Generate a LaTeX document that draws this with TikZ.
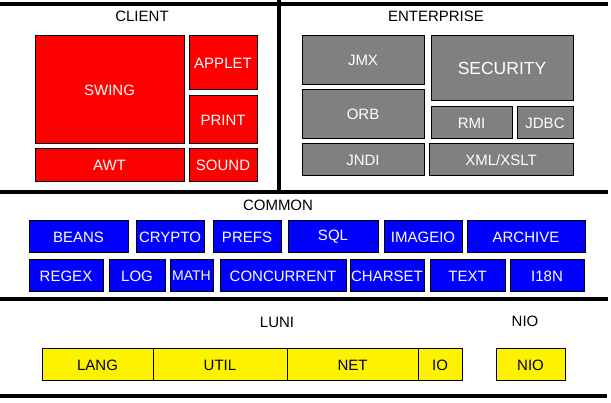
\documentclass[tikz,border=0pt]{standalone}
\usepackage{fontspec}
\setmainfont{Liberation Sans}
\tikzset{every picture/.style={line width=1pt}}
\tikzset{
  pkg/.style={draw=black, rectangle, inner sep=0pt, font=\fontsize{15}{17}\selectfont},
  clientpkg/.style={pkg, fill=red, text=white},
  entpkg/.style={pkg, fill=gray, text=white},
  commonpkg/.style={pkg, fill=blue, text=white, minimum height=32},
  lunipkg/.style={pkg, fill=yellow, text=black, minimum height=32},
  area/.style={font=\fontsize{15}{17}\selectfont},
  rule/.style={line width=4pt}
}

\begin{document}
\begin{tikzpicture}[x=1pt, y=-1pt]
        \useasboundingbox (0,0) rectangle (611,403);
        \draw[rule] (0,4) -- (608,4);
        \draw[rule] (279,0) -- (279,192);
        \draw[rule] (0,192) -- (608,192);
        \draw[rule] (0,299) -- (608,299);
        \draw[rule] (0,396) -- (607,396);

        \node[area] (client)     at (142,16)  {CLIENT};
        \node[area] (enterprise) at (436,16)  {ENTERPRISE};
        \node[area] (common)     at (278,205) {COMMON};
        \node[area] (luni)       at (277,322) {LUNI};
        \node[area] (niolabel)   at (525,321) {NIO};

        \node[clientpkg, minimum width=149, minimum height=108] (swing)  at (109.5,90)  {SWING};
        \node[clientpkg, minimum width=68, minimum height=54]   (applet) at (223,63)    {APPLET};
        \node[clientpkg, minimum width=68, minimum height=48]   (print)  at (223,120)   {PRINT};
        \node[clientpkg, minimum width=149, minimum height=33]  (awt)    at (109.5,165.5) {AWT};
        \node[clientpkg, minimum width=68, minimum height=33]   (sound)  at (223,165.5) {SOUND};

        \node[entpkg, minimum width=122, minimum height=49] (jmx)      at (363,60.5)  {JMX};
        \node[entpkg, minimum width=142, minimum height=65, font=\fontsize{17.5}{20}\selectfont] (security) at (502,68.5) {SECURITY};
        \node[entpkg, minimum width=122, minimum height=49] (orb)      at (363,114.5) {ORB};
        \node[entpkg, minimum width=81, minimum height=32]  (rmi)      at (471.5,123) {RMI};
        \node[entpkg, minimum width=56, minimum height=32]  (jdbc)     at (545,123)   {JDBC};
        \node[entpkg, minimum width=122, minimum height=32] (jndi)     at (363,160)   {JNDI};
        \node[entpkg, minimum width=144, minimum height=32] (xml)      at (501,160)   {XML/XSLT};

        \node[commonpkg, minimum width=99]  (beans)   at (78.5,237) {BEANS};
        \node[commonpkg, minimum width=68]  (crypto)  at (170,237)  {CRYPTO};
        \node[commonpkg, minimum width=68]  (prefs)   at (247,237)  {PREFS};
        \node[commonpkg, minimum width=90]  (sql)     at (333,237)  {SQL};
        \node[commonpkg, minimum width=78]  (imageio) at (423,237)  {IMAGEIO};
        \node[commonpkg, minimum width=118] (archive) at (526,237)  {ARCHIVE};

        \node[commonpkg, minimum width=74]  (regex)      at (66,276)    {REGEX};
        \node[commonpkg, minimum width=56]  (log)        at (137,276)   {LOG};
        \node[commonpkg, minimum width=43, font=\fontsize{14}{17}\selectfont] (math) at (191.5,276) {MATH};
        \node[commonpkg, minimum width=126] (concurrent) at (283,276)   {CONCURRENT};
        \node[commonpkg, minimum width=74]  (charset)    at (387,276)   {CHARSET};
        \node[commonpkg, minimum width=75]  (text)       at (467.5,276) {TEXT};
        \node[commonpkg, minimum width=74]  (i18n)       at (547,276)   {I18N};

        \node[lunipkg, minimum width=111] (lang) at (97.5,365)  {LANG};
        \node[lunipkg, minimum width=134] (util) at (220,365)   {UTIL};
        \node[lunipkg, minimum width=131] (net)  at (352.5,365) {NET};
        \node[lunipkg, minimum width=44]  (io)   at (440,365)   {IO};
        \node[lunipkg, minimum width=69]  (nio)  at (530.5,365) {NIO};
    \end{tikzpicture}
\end{document}
